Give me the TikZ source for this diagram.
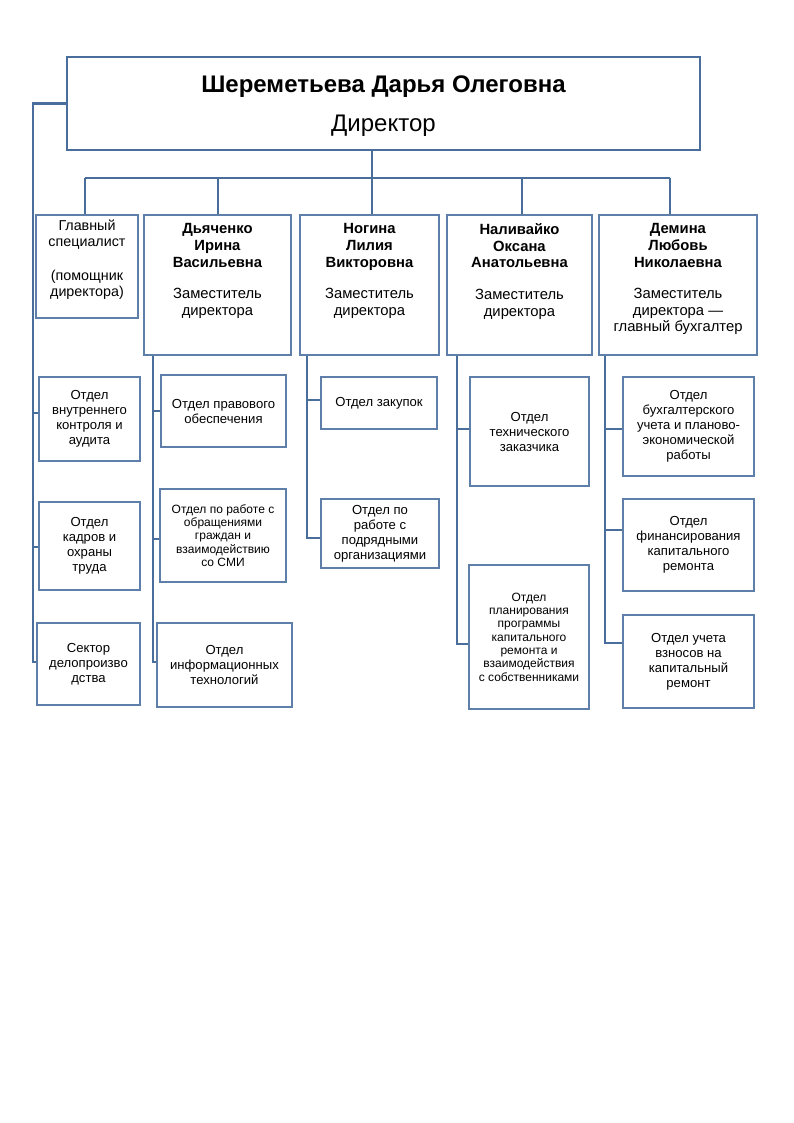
\documentclass[tikz,border=0pt]{standalone}
\usepackage{fontspec}
\setmainfont{Liberation Sans}
\definecolor{ln}{HTML}{4A6E9C}
\definecolor{bd}{HTML}{5E7FAA}
\begin{document}
\begin{tikzpicture}[x=1pt,y=-1pt,
  box/.style={draw=bd, line width=1.1pt, inner sep=0pt, align=center},
  conn/.style={draw=ln, line width=1.8pt},
  br/.style={draw=ln, line width=1.4pt},
  ttl/.style={inner sep=0pt, align=center, anchor=north},
  sm/.style={font=\fontsize{13.1}{15}\selectfont},
  xs/.style={font=\fontsize{12}{13.3}\selectfont},
  md/.style={font=\fontsize{14.8}{16.6}\selectfont}]
\newcommand\bx[7][]{\node[box,#1,minimum width={#5-#3},minimum height={#6-#4}] (#2) at ({(#3+#5)/2},{(#4+#6)/2}) {#7};}
\useasboundingbox (0,0) rectangle (794,1123);
% director
\bx[line width=2pt,draw=ln]{dir}{67}{57}{700}{150}{}
\node[ttl,font=\bfseries\fontsize{24}{28}\selectfont] (dname) at (383.5,76) {Шереметьева Дарья Олеговна};
\node[ttl,font=\fontsize{24}{28}\selectfont] (dpos) at (383.5,115) {Директор};
% level 2
\bx{gs}{36}{215}{138}{318}{}
\node[ttl,md,font=\fontsize{14.3}{16.6}\selectfont] (gst) at (gs.north) [yshift=-5] {Главный\\специалист\\[16.6pt](помощник\\директора)};
\bx{d1}{144}{215}{291}{355}{}
\node[ttl,md] (d1t) at (d1.north) [yshift=-9] {\textbf{Дьяченко}\\\textbf{Ирина}\\\textbf{Васильевна}\\[15pt]Заместитель\\директора};
\bx{d2}{300}{215}{439}{355}{}
\node[ttl,md] (d2t) at (d2.north) [yshift=-9] {\textbf{Ногина}\\\textbf{Лилия}\\\textbf{Викторовна}\\[15pt]Заместитель\\директора};
\bx{d3}{447}{215}{592}{355}{}
\node[ttl,md] (d3t) at (d3.north) [yshift=-9] {\textbf{Наливайко}\\\textbf{Оксана}\\\textbf{Анатольевна}\\[15pt]Заместитель\\директора};
\bx{d4}{599}{215}{757}{355}{}
\node[ttl,md] (d4t) at (d4.north) [yshift=-9] {\textbf{Демина}\\\textbf{Любовь}\\\textbf{Николаевна}\\[15pt]Заместитель\\директора —\\главный бухгалтер};
% level 3 left
\bx[sm]{l1}{39}{377}{140}{461}{Отдел\\внутреннего\\контроля и\\аудита}
\bx[sm]{l2}{39}{502}{140}{590}{Отдел\\кадров и\\охраны\\труда}
\bx[sm]{l3}{37}{623}{140}{705}{Сектор\\делопроизво\\дства}
% Дьяченко
\bx[sm]{a1}{161}{375}{286}{447}{Отдел правового\\обеспечения}
\bx[xs]{a2}{160}{489}{286}{582}{Отдел по работе с\\обращениями\\граждан и\\взаимодействию\\со СМИ}
\bx[sm]{a3}{157}{623}{292}{707}{Отдел\\информационных\\технологий}
% Ногина
\bx[sm]{b1}{321}{377}{437}{429}{Отдел закупок}
\bx[sm]{b2}{321}{499}{439}{568}{Отдел по\\работе с\\подрядными\\организациями}
% Наливайко
\bx[sm]{c1}{470}{377}{589}{486}{Отдел\\технического\\заказчика}
\bx[xs]{c2}{469}{565}{589}{709}{Отдел\\планирования\\программы\\капитального\\ремонта и\\взаимодействия\\с собственниками}
% Демина
\bx[sm]{e1}{623}{377}{754}{476}{Отдел\\бухгалтерского\\учета и планово-\\экономической\\работы}
\bx[sm]{e2}{623}{499}{754}{591}{Отдел\\финансирования\\капитального\\ремонта}
\bx[sm]{e3}{623}{615}{754}{708}{Отдел учета\\взносов на\\капитальный\\ремонт}
% top bus
\coordinate (t1) at (85,178);
\coordinate (t2) at (218,178);
\coordinate (t3) at (372,178);
\coordinate (t4) at (522,178);
\coordinate (t5) at (670,178);
\draw[conn] (t1) -- (t5);
\draw[conn] (dir.south -| t3) -- (t3);
\draw[conn] (t1) -- (t1 |- gs.north);
\draw[conn] (t2) -- (t2 |- d1.north);
\draw[conn] (t3) -- (t3 |- d2.north);
\draw[conn] (t4) -- (t4 |- d3.north);
\draw[conn] (t5) -- (t5 |- d4.north);
% left bus
\coordinate (lx) at (33,103.5);
\coordinate (j1) at (33,413);
\coordinate (j2) at (33,547);
\coordinate (j3) at (33,662);
\draw[conn,line width=2.2pt] (dir.west) -- (lx) -- (j3) -- (j3 -| l3.west);
\draw[conn,line width=2.2pt] (j1) -- (j1 -| l1.west);
\draw[conn,line width=2.2pt] (j2) -- (j2 -| l2.west);
% Дьяченко branch
\coordinate (ja1) at (153,411);
\coordinate (ja2) at (153,539);
\coordinate (ja3) at (153,662);
\draw[br] (ja1 |- d1.south) -- (ja3) -- (ja3 -| a3.west);
\draw[br] (ja1) -- (ja1 -| a1.west);
\draw[br] (ja2) -- (ja2 -| a2.west);
% Ногина branch
\coordinate (jb1) at (307,400);
\coordinate (jb2) at (307,538);
\draw[br] (jb1 |- d2.south) -- (jb2) -- (jb2 -| b2.west);
\draw[br] (jb1) -- (jb1 -| b1.west);
% Наливайко branch
\coordinate (jc1) at (457,429);
\coordinate (jc2) at (457,644);
\draw[br] (jc1 |- d3.south) -- (jc2) -- (jc2 -| c2.west);
\draw[br] (jc1) -- (jc1 -| c1.west);
% Демина branch
\coordinate (je1) at (605,429);
\coordinate (je2) at (605,530);
\coordinate (je3) at (605,643);
\draw[br] (je1 |- d4.south) -- (je3) -- (je3 -| e3.west);
\draw[br] (je1) -- (je1 -| e1.west);
\draw[br] (je2) -- (je2 -| e2.west);
\end{tikzpicture}
\end{document}
